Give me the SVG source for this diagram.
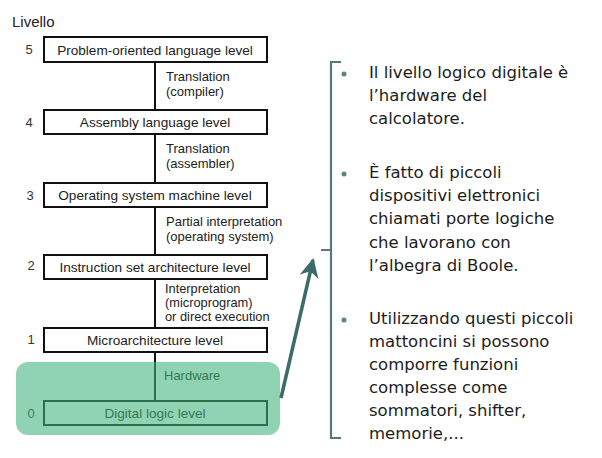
<svg xmlns="http://www.w3.org/2000/svg" width="602" height="458" viewBox="0 0 602 458">
<style>
.box{fill:#fff;stroke:#111;stroke-width:2}
.bt{font-family:"Liberation Sans",Arial,sans-serif;font-size:13.6px;fill:#222;text-anchor:middle}
.num{font-family:"Liberation Sans",Arial,sans-serif;font-size:13px;fill:#333;text-anchor:middle}
.lbl{font-family:"Liberation Sans",Arial,sans-serif;font-size:13px;fill:#222}
.lbs{font-family:"Liberation Sans",Arial,sans-serif;font-size:12.8px;fill:#222}
.bl{font-family:"DejaVu Sans",Verdana,sans-serif;font-size:16.5px;fill:#1c1c1c}
.dot{fill:#5f8282}
</style>
<defs>
<clipPath id="clipL"><rect x="0" y="0" width="272" height="458"/></clipPath>
<marker id="ah" viewBox="0 0 10 10" refX="9" refY="5" markerWidth="5.5" markerHeight="5.5" orient="auto" markerUnits="strokeWidth">
<path d="M0,0 L10,5 L0,10 L3,5 Z" fill="#3d6b6b"/>
</marker>
</defs>
<rect width="602" height="458" fill="#fff"/>
<text x="12" y="27" font-family="Liberation Sans,Arial,sans-serif" font-size="15" fill="#222">Livello</text>
<g id="connectors">
<line x1="155" y1="62" x2="155" y2="110" stroke="#111" stroke-width="2"/>
<line x1="155" y1="134" x2="155" y2="183" stroke="#111" stroke-width="2"/>
<line x1="155" y1="207" x2="155" y2="255" stroke="#111" stroke-width="2"/>
<line x1="155" y1="279" x2="155" y2="328" stroke="#111" stroke-width="2"/>
<line x1="155" y1="352" x2="155" y2="401" stroke="#111" stroke-width="2"/>
<text class="lbl" x="166" y="81">Translation</text>
<text class="lbl" x="166" y="96">(compiler)</text>
<text class="lbl" x="166" y="153">Translation</text>
<text class="lbl" x="166" y="168">(assembler)</text>
<text class="lbl" x="166" y="226">Partial interpretation</text>
<text class="lbl" x="166" y="241">(operating system)</text>
<text class="lbs" x="165" y="293">Interpretation</text>
<text class="lbs" x="165" y="307">(microprogram)</text>
<text class="lbs" x="165" y="321" clip-path="url(#clipL)">or direct execution</text>
<text class="lbl" x="164" y="380">Hardware</text>
</g>
<g id="level5"><text class="num" x="29" y="54">5</text><rect class="box" x="44" y="37" width="223" height="25"/><text class="bt" x="155" y="54.5">Problem-oriented language level</text></g>
<g id="level4"><text class="num" x="29" y="127">4</text><rect class="box" x="44" y="110" width="223" height="24"/><text class="bt" x="155" y="127">Assembly language level</text></g>
<g id="level3"><text class="num" x="30" y="200">3</text><rect class="box" x="44" y="183" width="223" height="24"/><text class="bt" x="155" y="200">Operating system machine level</text></g>
<g id="level2"><text class="num" x="31" y="270">2</text><rect class="box" x="44" y="255" width="223" height="24"/><text class="bt" x="155" y="272">Instruction set architecture level</text></g>
<g id="level1"><text class="num" x="31" y="344">1</text><rect class="box" x="44" y="328" width="223" height="24"/><text class="bt" x="155" y="345">Microarchitecture level</text></g>
<g id="level0"><text class="num" x="31" y="418">0</text><rect class="box" x="44" y="401" width="223" height="24"/><text class="bt" x="155" y="418">Digital logic level</text></g>
<g id="hardware-highlight">
<rect x="16" y="362" width="264" height="73" rx="12" fill="#3fb37a" fill-opacity="0.58"/>
</g>
<g id="arrow">
<line x1="281" y1="398" x2="313" y2="260" stroke="#3d6b6b" stroke-width="3.5" marker-end="url(#ah)"/>
</g>
<g id="bracket">
<path d="M341,62 L331,62 L331,438 L341,438 M331,250 L321,250" fill="none" stroke="#5a7a7a" stroke-width="2.2"/>
</g>
<g id="bullets">
<circle class="dot" cx="344" cy="74" r="2.5"/>
<text class="bl" x="369" y="78">Il livello logico digitale è</text>
<text class="bl" x="369" y="101">l’hardware del</text>
<text class="bl" x="369" y="124">calcolatore.</text>
<circle class="dot" cx="344" cy="174" r="2.5"/>
<text class="bl" x="369" y="178">È fatto di piccoli</text>
<text class="bl" x="369" y="201">dispositivi elettronici</text>
<text class="bl" x="369" y="224">chiamati porte logiche</text>
<text class="bl" x="369" y="248">che lavorano con</text>
<text class="bl" x="369" y="271">l’albegra di Boole.</text>
<circle class="dot" cx="344" cy="320" r="2.5"/>
<text class="bl" x="369" y="324">Utilizzando questi piccoli</text>
<text class="bl" x="369" y="347">mattoncini si possono</text>
<text class="bl" x="369" y="370">comporre funzioni</text>
<text class="bl" x="369" y="393">complesse come</text>
<text class="bl" x="369" y="416">sommatori, shifter,</text>
<text class="bl" x="369" y="439">memorie,...</text>
</g>
</svg>
